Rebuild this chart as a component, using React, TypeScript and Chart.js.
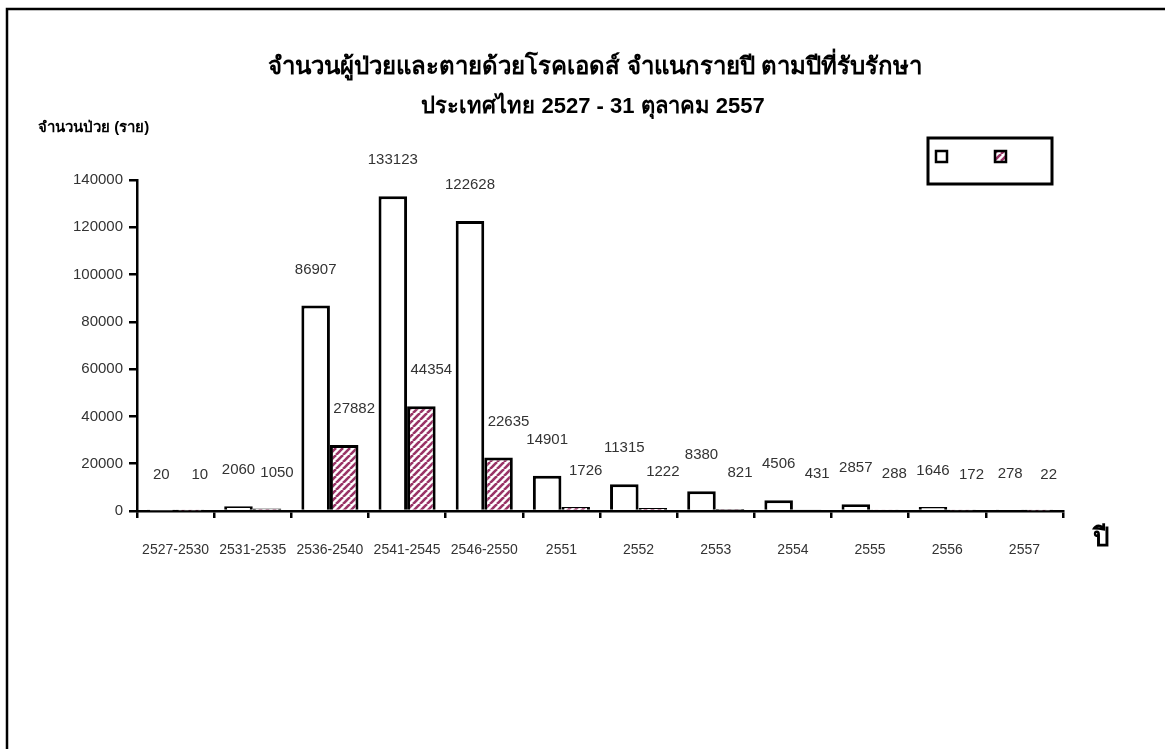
import React, { useEffect, useRef } from "react";
import { Chart, registerables } from "chart.js";

Chart.register(...registerables);

const categories = [
  "2527-2530", "2531-2535", "2536-2540", "2541-2545", "2546-2550",
  "2551", "2552", "2553", "2554", "2555", "2556", "2557",
];
const patients = [20, 2060, 86907, 133123, 122628, 14901, 11315, 8380, 4506, 2857, 1646, 278];
const deaths = [10, 1050, 27882, 44354, 22635, 1726, 1222, 821, 431, 288, 172, 22];
const yTicks = [0, 20000, 40000, 60000, 80000, 100000, 120000, 140000];

const titleLine1 = "จำนวนผู้ป่วยและตายด้วยโรคเอดส์ จำแนกรายปี ตามปีที่รับรักษา";
const titleLine2 = "ประเทศไทย 2527 - 31 ตุลาคม 2557";
const yAxisTitle = "จำนวนป่วย (ราย)";
const xAxisTitle = "ปี";

const FONT = "'Liberation Sans', Arial, 'Noto Sans', sans-serif";
const PLUM = "#993366";

function makePattern(): CanvasPattern | string {
  const size = 7;
  const c = document.createElement("canvas");
  c.width = size;
  c.height = size;
  const g = c.getContext("2d");
  if (!g) return PLUM;
  g.fillStyle = "#ffffff";
  g.fillRect(0, 0, size, size);
  g.strokeStyle = PLUM;
  g.lineWidth = 2.6;
  for (let k = -1; k <= 1; k++) {
    g.beginPath();
    g.moveTo(k * size, size);
    g.lineTo(k * size + size, 0);
    g.stroke();
  }
  const p = g.createPattern(c, "repeat");
  return p || PLUM;
}

export default function App() {
  const ref = useRef<HTMLCanvasElement | null>(null);

  useEffect(() => {
    const canvas = ref.current;
    if (!canvas) return;
    const pattern = makePattern();

    const decor = {
      id: "decor",
      beforeDraw(chart: any) {
        const ctx = chart.ctx;
        ctx.save();
        ctx.fillStyle = "#ffffff";
        ctx.fillRect(0, 0, chart.width, chart.height);
        ctx.restore();
      },
      afterDatasetsDraw(chart: any) {
        const ctx = chart.ctx;
        ctx.save();
        ctx.font = `15px ${FONT}`;
        ctx.fillStyle = "#333333";
        ctx.textAlign = "center";
        ctx.textBaseline = "middle";
        chart.data.datasets.forEach((ds: any, di: number) => {
          const meta = chart.getDatasetMeta(di);
          meta.data.forEach((el: any, i: number) => {
            const dx = di === 1 ? 10 : 0;
            ctx.fillText(String(ds.data[i]), el.x + dx, el.y - 36);
          });
        });
        ctx.restore();
      },
      afterDraw(chart: any) {
        const ctx = chart.ctx;
        ctx.save();
        // outer frame
        ctx.strokeStyle = "#000000";
        ctx.lineWidth = 2.5;
        ctx.strokeRect(7, 9, 1400, 1000);
        // titles
        ctx.fillStyle = "#000000";
        ctx.textAlign = "center";
        ctx.textBaseline = "middle";
        ctx.font = `bold 24px ${FONT}`;
        ctx.fillText(titleLine1, 595, 67);
        ctx.font = `bold 22px ${FONT}`;
        ctx.fillText(titleLine2, 593, 107);
        ctx.textAlign = "left";
        ctx.font = `bold 15px ${FONT}`;
        ctx.fillText(yAxisTitle, 38, 128);
        ctx.textAlign = "center";
        ctx.font = `bold 26px ${FONT}`;
        ctx.fillText(xAxisTitle, 1101, 539);
        // legend
        ctx.lineWidth = 3;
        ctx.strokeStyle = "#000000";
        ctx.strokeRect(928, 138, 124, 46);
        ctx.lineWidth = 2.5;
        ctx.fillStyle = "#ffffff";
        ctx.fillRect(936, 151, 11, 11);
        ctx.strokeRect(936, 151, 11, 11);
        ctx.fillStyle = pattern as any;
        ctx.fillRect(995, 151, 11, 11);
        ctx.strokeRect(995, 151, 11, 11);
        ctx.restore();
      },
    };

    const chart = new Chart(canvas, {
      type: "bar",
      data: {
        labels: categories,
        datasets: [
          {
            label: "",
            data: patients,
            backgroundColor: "#ffffff",
            borderColor: "#000000",
            borderWidth: 3,
            categoryPercentage: 0.74,
            barPercentage: 1.0,
          },
          {
            label: "",
            data: deaths,
            backgroundColor: pattern as any,
            borderColor: "#000000",
            borderWidth: 3,
            categoryPercentage: 0.74,
            barPercentage: 1.0,
          },
        ],
      },
      options: {
        responsive: false,
        animation: false,
        devicePixelRatio: 1,
        layout: { padding: { left: 0, right: 102, top: 180, bottom: 0 } },
        plugins: {
          legend: { display: false },
          title: { display: false },
          tooltip: { enabled: false },
        },
        scales: {
          x: {
            grid: {
              display: true,
              drawOnChartArea: false,
              color: "#000000",
              lineWidth: 2.5,
              tickLength: 7,
              offset: true,
            },
            border: { display: true, color: "#000000", width: 2.5 },
            ticks: {
              color: "#333333",
              font: { family: FONT, size: 14 },
              padding: 24,
              maxRotation: 0,
              autoSkip: false,
            },
            afterFit(scale: any) {
              scale.height = 238;
            },
          },
          y: {
            min: 0,
            max: 140000,
            grid: {
              display: true,
              drawOnChartArea: false,
              color: "#000000",
              lineWidth: 2.5,
              tickLength: 8,
            },
            border: { display: true, color: "#000000", width: 2.5 },
            afterBuildTicks(scale: any) {
              scale.ticks = yTicks.map((v) => ({ value: v }));
            },
            ticks: {
              color: "#333333",
              font: { family: FONT, size: 15 },
              padding: 6,
              callback: (v: any) => String(v),
            },
            afterFit(scale: any) {
              scale.width = 137;
            },
          },
        },
      },
      plugins: [decor],
    });

    return () => chart.destroy();
  }, []);

  return (
    <div style={{ position: "fixed", left: 0, top: 0, width: 1165, height: 749, background: "#fff" }}>
      <canvas ref={ref} width={1165} height={749} style={{ display: "block" }} />
    </div>
  );
}
